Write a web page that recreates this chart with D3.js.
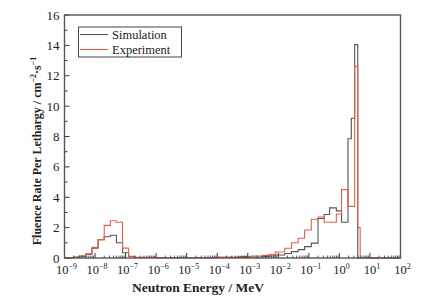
<!DOCTYPE html>
<html>
<head>
<meta charset="utf-8">
<script src="https://cdn.jsdelivr.net/npm/d3@7"></script>
<style>
  body { margin: 0; background: #fff; }
  svg text { font-family: "Liberation Serif", "DejaVu Serif", serif; }
</style>
</head>
<body>
<div id="root"></div>
<script>
// DATA (bin edges as log10 of energy in MeV)
let binEdgesLog = [-9.0, -8.7, -8.5, -8.3, -8.1, -7.9, -7.7, -7.5, -7.3, -7.1, -6.9, -6.7, -6.0, -5.0, -4.0,
  -3.3, -2.9, -2.5, -2.3, -2.1, -1.79, -1.57, -1.35, -1.14, -0.92, -0.7, -0.5, -0.32, -0.1, 0.07,
  0.12, 0.28, 0.39, 0.5, 0.6, 0.68, 1.0, 2.0];

let simulationValues = [0.02, 0.04, 0.08, 0.25, 0.65, 1.2, 1.4, 1.5, 1.0, 0.35, 0.1, 0.03, 0.02, 0.02, 0.03,
  0.05, 0.07, 0.1, 0.13, 0.2, 0.3, 0.42, 0.55, 0.75, 0.98, 2.6, 2.86, 3.3, 3.1, 2.35,
  2.35, 7.85, 9.2, 14.05, 0, 0.02, 0];

let experimentValues = [0.02, 0.06, 0.15, 0.3, 0.7, 1.2, 2.15, 2.45, 2.35, 0.65, 0.12, 0.04, 0.03, 0.03, 0.06,
  0.1, 0.13, 0.17, 0.22, 0.4, 0.64, 1.0, 1.3, 1.84, 2.55, 2.7, 2.35, 2.35, 2.9, 4.5,
  4.5, 3.4, 3.4, 12.6, 2.0, 0.03, 0];

let seriesNames = ['Simulation', 'Experiment'];
let seriesColors = ['#555555', '#e0604c'];

let xTickExps = [-9, -8, -7, -6, -5, -4, -3, -2, -1, 0, 1, 2];
let yTicks = [0, 2, 4, 6, 8, 10, 12, 14, 16];

// DIMENSIONS
let width = 423, height = 307;
let plotLeft = 64.5, plotRight = 400.5, plotTop = 15, plotBottom = 258;

let svg = d3.select('#root')
  .append('svg')
  .attr('width', width)
  .attr('height', height);

let xScale = d3.scaleLog()
  .domain([1e-9, 1e2])
  .range([plotLeft, plotRight]);

let yScale = d3.scaleLinear()
  .domain([0, 16])
  .range([plotBottom, plotTop]);

// build step points from bins
function stepPoints(values) {
  let pts = values.map((v, i) => ({ e: Math.pow(10, binEdgesLog[i]), v: v }));
  pts.push({ e: Math.pow(10, binEdgesLog[binEdgesLog.length - 1]), v: values[values.length - 1] });
  return pts;
}

let line = d3.line()
  .x((d) => xScale(d.e))
  .y((d) => yScale(d.v))
  .curve(d3.curveStepAfter);

// histograms: simulation first, experiment on top
[simulationValues, experimentValues].forEach((vals, i) => {
  svg.append('path')
    .datum(stepPoints(vals))
    .attr('fill', 'none')
    .attr('stroke', seriesColors[i])
    .attr('stroke-width', 1.1)
    .attr('d', line);
});

// Y axis ticks (inside)
let yMinor = d3.range(0, 17, 1);
svg.append('g')
  .selectAll('line')
  .data(yMinor)
  .enter()
  .append('line')
  .attr('x1', plotLeft)
  .attr('x2', (d) => plotLeft + (d % 2 === 0 ? 5 : 3))
  .attr('y1', (d) => yScale(d))
  .attr('y2', (d) => yScale(d))
  .attr('stroke', '#333')
  .attr('stroke-width', 1);

svg.append('g')
  .selectAll('text')
  .data(yTicks)
  .enter()
  .append('text')
  .attr('x', plotLeft - 5)
  .attr('y', (d) => yScale(d) + 4.5)
  .attr('text-anchor', 'end')
  .style('font-size', '13px')
  .style('fill', '#222')
  .text((d) => d);

// X axis ticks (inside): majors at decades, minors at 2..9
let xMinor = [];
xTickExps.slice(0, -1).forEach((p) => {
  for (let k = 2; k <= 9; k++) xMinor.push(k * Math.pow(10, p));
});
svg.append('g')
  .selectAll('line')
  .data(xMinor)
  .enter()
  .append('line')
  .attr('x1', (d) => xScale(d))
  .attr('x2', (d) => xScale(d))
  .attr('y1', plotBottom)
  .attr('y2', plotBottom - 2.5)
  .attr('stroke', '#333')
  .attr('stroke-width', 0.8);

svg.append('g')
  .selectAll('line')
  .data(xTickExps)
  .enter()
  .append('line')
  .attr('x1', (d) => xScale(Math.pow(10, d)))
  .attr('x2', (d) => xScale(Math.pow(10, d)))
  .attr('y1', plotBottom)
  .attr('y2', plotBottom - 5)
  .attr('stroke', '#333')
  .attr('stroke-width', 1);

let xLabels = svg.append('g')
  .selectAll('text')
  .data(xTickExps)
  .enter()
  .append('text')
  .attr('x', (d) => xScale(Math.pow(10, d)) + 2)
  .attr('y', 274)
  .attr('text-anchor', 'middle')
  .style('font-size', '12.5px')
  .style('fill', '#222');
xLabels.append('tspan').text('10');
xLabels.append('tspan')
  .attr('dy', -5)
  .style('font-size', '8px')
  .text((d) => (d < 0 ? '\u2212' + (-d) : d));

// frame
svg.append('rect')
  .attr('x', plotLeft)
  .attr('y', plotTop)
  .attr('width', plotRight - plotLeft)
  .attr('height', plotBottom - plotTop)
  .attr('fill', 'none')
  .attr('stroke', '#555')
  .attr('stroke-width', 1.4);

// axis titles
svg.append('text')
  .attr('x', 198)
  .attr('y', 292)
  .attr('text-anchor', 'middle')
  .style('font-size', '13.5px')
  .style('font-weight', 'bold')
  .style('fill', '#222')
  .text('Neutron Energy / MeV');

let yTitle = svg.append('text')
  .attr('transform', 'translate(41, 151) rotate(-90)')
  .attr('text-anchor', 'middle')
  .style('font-size', '12px')
  .style('font-weight', 'bold')
  .style('fill', '#222');
yTitle.append('tspan').text('Fluence Rate Per Lethargy / cm');
yTitle.append('tspan').attr('dy', -5).style('font-size', '8px').text('\u22122');
yTitle.append('tspan').attr('dy', 5).text('\u00b7s');
yTitle.append('tspan').attr('dy', -5).style('font-size', '8px').text('\u22121');

// legend
let legend = svg.append('g');
legend.append('rect')
  .attr('x', 78.5)
  .attr('y', 27)
  .attr('width', 103)
  .attr('height', 30)
  .attr('fill', '#fff')
  .attr('stroke', '#444')
  .attr('stroke-width', 1);
seriesNames.forEach((name, i) => {
  let yy = 34.5 + i * 15;
  legend.append('line')
    .attr('x1', 80)
    .attr('x2', 108)
    .attr('y1', yy)
    .attr('y2', yy)
    .attr('stroke', seriesColors[i])
    .attr('stroke-width', 1.1);
  legend.append('text')
    .attr('x', 112)
    .attr('y', yy + 4)
    .style('font-size', '12.5px')
    .style('fill', '#222')
    .text(name);
});
</script>
</body>
</html>
